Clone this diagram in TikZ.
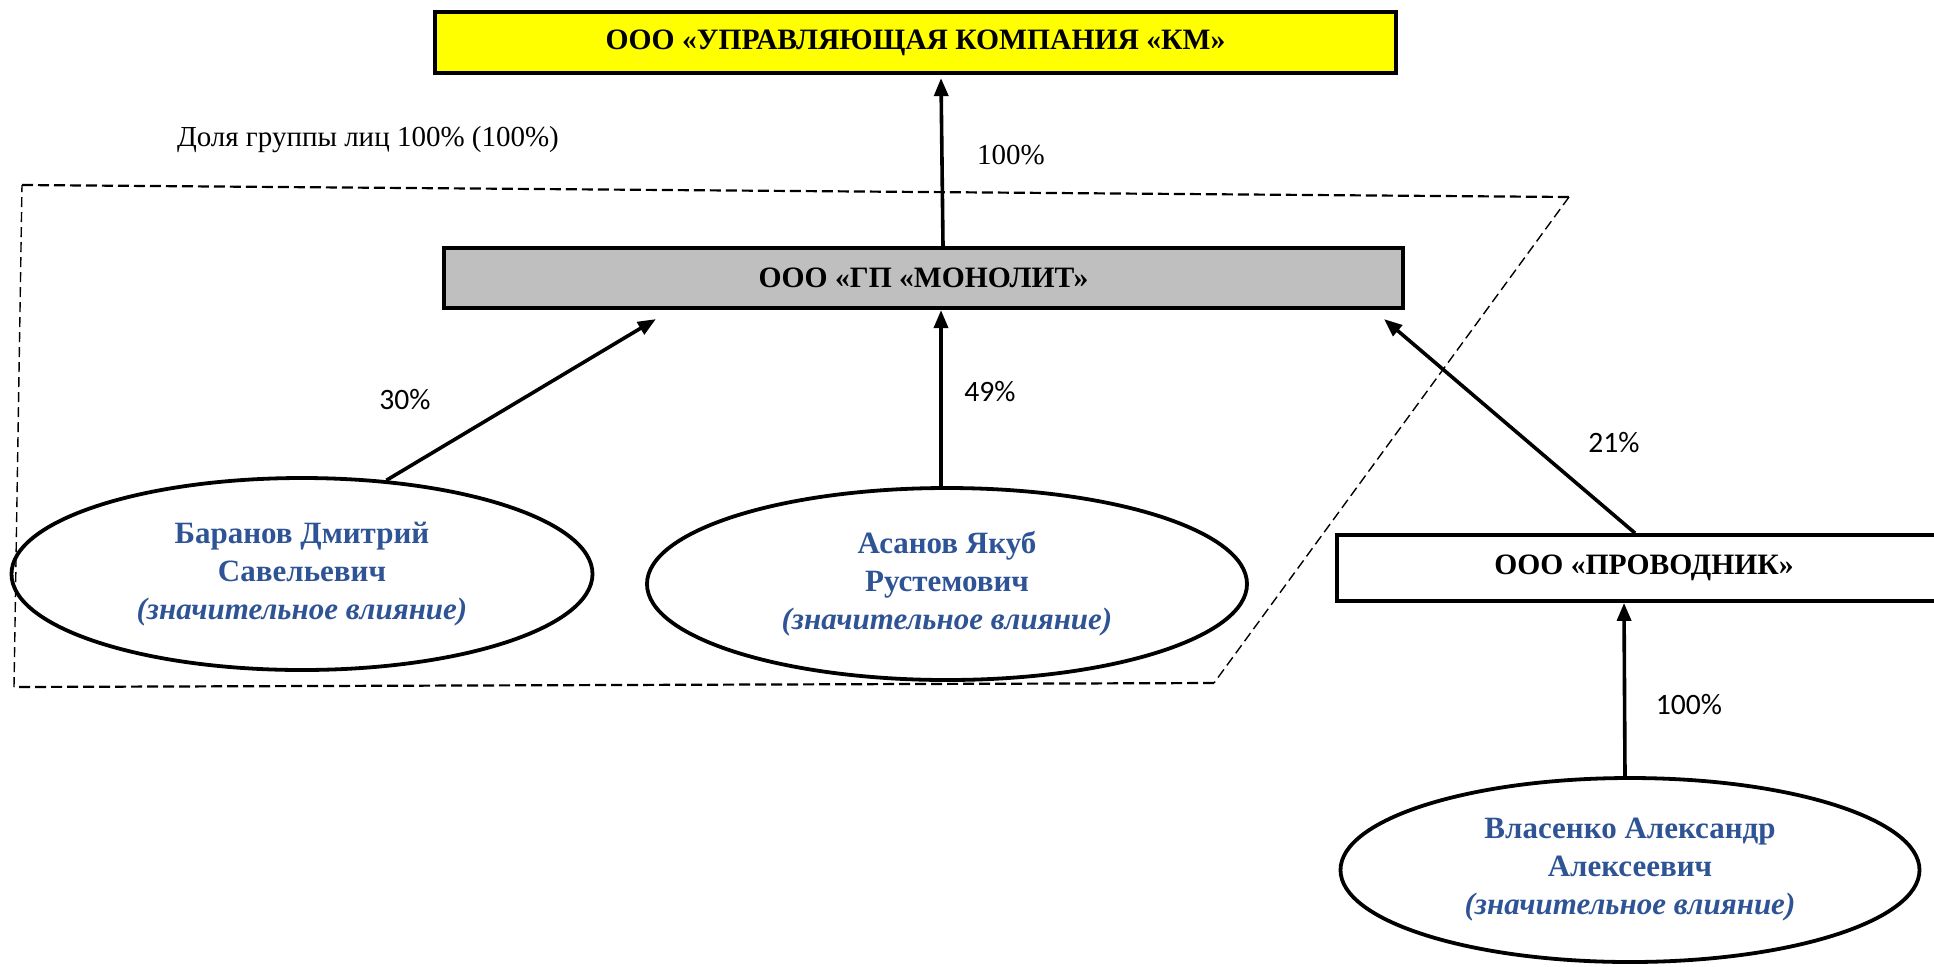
\documentclass[tikz,border=0pt]{standalone}
\usepackage{fontspec}
\setmainfont{Liberation Serif}
\newfontfamily\carlito{Carlito}
\usetikzlibrary{shapes.geometric,arrows.meta,calc}
\definecolor{nameblue}{RGB}{47,84,150}
\definecolor{boxgray}{RGB}{191,191,191}
\definecolor{boxyellow}{RGB}{255,255,0}
\begin{document}
\begin{tikzpicture}[x=0.5pt,y=-0.5pt,
  box/.style={draw=black,line width=2.1pt,inner sep=0pt,
    font=\fontsize{14.8}{18}\selectfont\bfseries},
  person/.style={ellipse,draw=black,line width=1.9pt,inner sep=0pt,align=center,
    font=\fontsize{15.5}{19}\selectfont\bfseries,text=nameblue},
  arr/.style={-{Triangle[length=9pt,width=7pt]},line width=1.8pt},
  pct/.style={font=\carlito\fontsize{14.8}{16}\selectfont,inner sep=0pt},
  serlbl/.style={font=\fontsize{14.5}{16}\selectfont,inner sep=0pt},
  grpthick/.style={line width=1.1pt,dash pattern=on 5.5pt off 2.5pt},
  grpthin/.style={line width=0.7pt,dash pattern=on 5pt off 2.5pt}]
\useasboundingbox (0,0) rectangle (1934,966);
\clip (0,0) rectangle (1934,966);
\fill[white] (0,0) rectangle (1934,966);

% group outline
\coordinate (g1) at (22,185);
\coordinate (g2) at (1569,197);
\coordinate (g3) at (1214,683);
\coordinate (g4) at (14,687);
\draw[grpthick] (g1) -- (g2);
\draw[grpthin] (g2) -- (g3);
\draw[grpthick] (g3) -- (g4);
\draw[grpthin] (g4) -- (g1);

% boxes
\node[box,fill=boxyellow,minimum width=480.5pt,minimum height=30.5pt] (km) at (915.5,42.5)
  {ООО «УПРАВЛЯЮЩАЯ КОМПАНИЯ «КМ»};
\node[box,fill=boxgray,minimum width=479.5pt,minimum height=30pt] (mon) at (923.5,278)
  {ООО «ГП «МОНОЛИТ»};
\node[box,fill=white,line width=1.9pt,minimum width=307pt,minimum height=33pt] (prov) at (1644,568)
  {ООО «ПРОВОДНИК»};

% persons
\node[person,minimum width=290.5pt,minimum height=96pt] (bar) at (302,574)
  {Баранов Дмитрий\\Савельевич\\\textit{(значительное влияние)}};
\node[person,minimum width=300pt,minimum height=96pt] (asa) at (947,584)
  {Асанов Якуб\\Рустемович\\\textit{(значительное влияние)}};
\node[person,minimum width=289.5pt,minimum height=92pt] (vla) at (1630,870)
  {Власенко Александр\\Алексеевич\\\textit{(значительное влияние)}};

% connectors
\draw[arr] ([xshift=9.75pt]mon.north) -- ([xshift=12.75pt,yshift=-1.5pt]km.south);
\draw[arr] (bar.48) -- ([xshift=107pt,yshift=-4.5pt]mon.south west);
\coordinate (p49) at ([xshift=-3pt]asa.north);
\draw[arr] (p49) -- (p49 |- mon.south);
\draw[arr] ([xshift=-4.5pt]prov.north) -- ([xshift=-10.5pt,yshift=-4.5pt]mon.south east);
\draw[arr] ([xshift=-2.5pt]vla.north) -- ([xshift=-10pt]prov.south);

% labels
\node[serlbl] (lgrp) at (368,140) {Доля группы лиц 100\% (100\%)};
\node[serlbl] (l100a) at (1011,155) {100\%};
\node[pct] (l30) at (405,400) {30\%};
\node[pct] (l49) at (990,392) {49\%};
\node[pct] (l21) at (1614,443) {21\%};
\node[pct] (l100b) at (1689,705) {100\%};
\end{tikzpicture}
\end{document}
